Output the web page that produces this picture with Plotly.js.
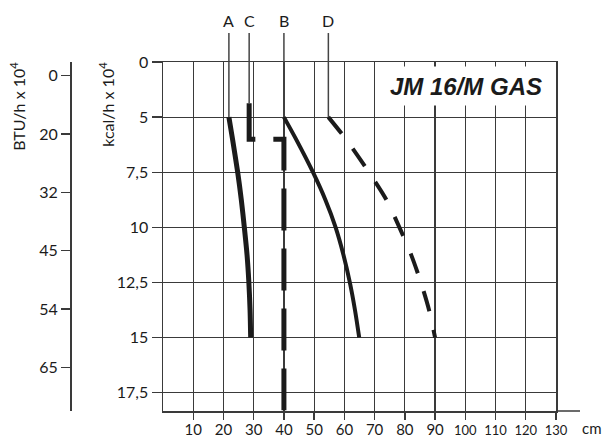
<!DOCTYPE html>
<html>
<head>
<meta charset="utf-8">
<script src="https://cdn.plot.ly/plotly-3.0.1.min.js"></script>
<style>
  html, body { margin: 0; padding: 0; background: #fff; }
  #chart { width: 604px; height: 438px; }
</style>
</head>
<body>
<div id="chart"></div>
<script>
// Heat output levels (kcal/h x 10^4) at which the flame curves are sampled
const kcalLevels = [5, 6, 7.5, 8.75, 10, 11.25, 12.5, 13.75, 15];
// Flame length curves (cm)
const curveA = [21.8, 23.0, 24.7, 25.9, 26.9, 27.8, 28.4, 28.8, 29.0];
const curveB = [40.0, 44.0, 49.6, 53.7, 57.1, 59.7, 61.8, 63.5, 64.9];
const curveD = [54.7, 60.5, 68.1, 73.9, 78.2, 82.1, 85.3, 88.0, 90.0];
// Curve C: stepped dashed line
const curveCcm = [28.5, 28.5, 40, 40];
const curveCkcal = [3.75, 6, 6, 18.3];

// Axis tick labels
const kcalTicks = ['0', '5', '7,5', '10', '12,5', '15', '17,5'];
const btuTicks = ['0', '20', '32', '45', '54', '65'];
const cmTicks = [10, 20, 30, 40, 50, 60, 70, 80, 90, 100, 110, 120, 130];

// Curve labels above the grid and where each curve starts
const curveNames = ['A', 'C', 'B', 'D'];
const labelCm = [21.8, 28.5, 40, 54.7];
const labelKcal = [5, 3.75, 5, 5];

const IDX_MAX = 6.333;
// The kcal axis is spaced unevenly: 0-5 spans one step, then 2.5 per step
function kcalToIdx(v) {
  return v <= 5 ? v / 5 : 1 + (v - 5) / 2.5;
}
function idxToPaper(i) {
  return 1 - i / IDX_MAX;
}
// Three-digit labels are set narrower so they fit their column
function cmLabel(v) {
  return v >= 100 ? '<span style="font-size:13px">' + v + '</span>' : String(v);
}

const INK = '#1b1b1b';
const GRID = '#3a3a3a';
const FONT = 'Lato, "Open Sans", sans-serif';

const traces = [
  {
    x: curveA, y: kcalLevels.map(kcalToIdx), mode: 'lines',
    line: { color: INK, width: 5, shape: 'spline', smoothing: 0.8 },
    hoverinfo: 'skip'
  },
  {
    x: curveB, y: kcalLevels.map(kcalToIdx), mode: 'lines',
    line: { color: INK, width: 4, shape: 'spline', smoothing: 0.8 },
    hoverinfo: 'skip'
  },
  {
    x: curveD, y: kcalLevels.map(kcalToIdx), mode: 'lines',
    line: { color: INK, width: 4, shape: 'spline', smoothing: 0.8, dash: '21px,19px' },
    hoverinfo: 'skip'
  },
  {
    x: curveCcm, y: curveCkcal.map(kcalToIdx), mode: 'lines',
    line: { color: INK, width: 5, dash: '42px,18px' },
    hoverinfo: 'skip'
  },
  // carrier for the BTU axis
  { x: [], y: [], yaxis: 'y2', mode: 'lines', hoverinfo: 'skip' }
];

const shapes = [];
const annotations = [];

// Leader lines from each letter down to the start of its curve
curveNames.forEach(function (name, k) {
  shapes.push({
    type: 'line', xref: 'x', yref: 'paper',
    x0: labelCm[k], x1: labelCm[k],
    y0: idxToPaper(kcalToIdx(labelKcal[k])), y1: 1.083,
    line: { color: '#444', width: 1.5 }
  });
  annotations.push({
    text: name, xref: 'x', yref: 'paper',
    x: labelCm[k], y: 1.118, xanchor: 'center', yanchor: 'middle',
    showarrow: false, font: { family: FONT, size: 16, color: INK }
  });
});

// Bottom axis line runs on past the last grid column
shapes.push({
  type: 'line', xref: 'paper', yref: 'paper',
  x0: 1, x1: 1 + 24 / 486, y0: 0, y1: 0,
  line: { color: GRID, width: 1.5 }
});

annotations.push(
  {
    text: '<b><i>JM 16/M GAS</i></b>', xref: 'paper', yref: 'paper',
    x: (466 - 70) / 486, y: 1 - (86 - 62) / 349, xanchor: 'center', yanchor: 'middle',
    showarrow: false, bgcolor: '#fff', width: 168, height: 36,
    font: { family: '"Liberation Sans", Arial, sans-serif', size: 24, color: INK }
  },
  {
    text: 'BTU/h x 10<sup>4</sup>', xref: 'paper', yref: 'paper',
    x: (18 - 70) / 486, y: 1.005, xanchor: 'center', yanchor: 'top',
    textangle: -90, showarrow: false,
    font: { family: FONT, size: 16, color: INK }
  },
  {
    text: 'kcal/h x 10<sup>4</sup>', xref: 'paper', yref: 'paper',
    x: (107 - 70) / 486, y: 1.005, xanchor: 'center', yanchor: 'top',
    textangle: -90, showarrow: false,
    font: { family: FONT, size: 16, color: INK }
  },
  {
    text: 'cm', xref: 'paper', yref: 'paper',
    x: (592 - 70) / 486, y: -0.05, xanchor: 'center', yanchor: 'middle',
    showarrow: false, font: { family: FONT, size: 15, color: INK }
  }
);

const layout = {
  width: 604, height: 438,
  margin: { l: 70, r: 48, t: 62, b: 27, pad: 0 },
  paper_bgcolor: '#fff', plot_bgcolor: '#fff',
  showlegend: false,
  font: { family: FONT, size: 15, color: INK },
  xaxis: {
    domain: [93 / 486, 1], range: [0, 130],
    tickmode: 'array', tickvals: cmTicks, ticktext: cmTicks.map(cmLabel),
    ticks: 'outside', ticklen: 7, tickwidth: 1.3, tickcolor: GRID,
    ticklabelstandoff: -3,
    showgrid: true, gridcolor: GRID, gridwidth: 1.2,
    showline: true, linecolor: GRID, linewidth: 1.5, mirror: true,
    zeroline: false, tickfont: { family: FONT, size: 15, color: INK }
  },
  yaxis: {
    range: [IDX_MAX, 0],
    tickmode: 'array', tickvals: [0, 1, 2, 3, 4, 5, 6], ticktext: kcalTicks,
    ticks: 'outside', ticklen: 10, tickwidth: 1.3, tickcolor: GRID,
    showgrid: true, gridcolor: GRID, gridwidth: 1.2,
    showline: true, linecolor: GRID, linewidth: 1.5, mirror: true,
    zeroline: false, tickfont: { family: FONT, size: 16, color: INK }
  },
  yaxis2: {
    overlaying: 'y', anchor: 'free', position: 0, side: 'left',
    range: [5.749, -0.235],
    tickmode: 'array', tickvals: [0, 1, 2, 3, 4, 5], ticktext: btuTicks,
    ticks: 'outside', ticklen: 9, tickwidth: 1.3, tickcolor: GRID,
    showgrid: false, showline: true, linecolor: GRID, linewidth: 1.5,
    zeroline: false, tickfont: { family: FONT, size: 16, color: INK }
  },
  shapes: shapes,
  annotations: annotations
};

Plotly.newPlot('chart', traces, layout, { staticPlot: true, displayModeBar: false });
</script>
</body>
</html>
